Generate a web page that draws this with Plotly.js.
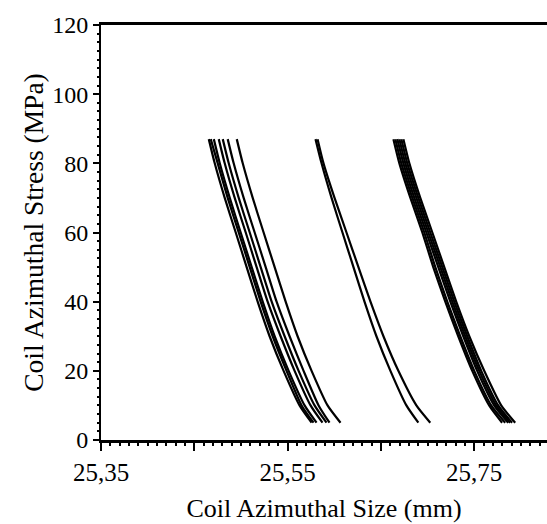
<!DOCTYPE html>
<html>
<head>
<meta charset="utf-8">
<script src="https://cdn.plot.ly/plotly-3.0.1.min.js"></script>
<style>html,body{margin:0;padding:0;background:#fff;}#chart{width:547px;height:524px;}</style>
</head>
<body>
<div id="chart"></div>
<script>
// Stress levels (MPa) at which each curve was read
const stress = [87, 80, 70, 60, 50, 40, 30, 20, 10, 5];

// Group 1 (left bundle)
const g1c1 = [25.4655, 25.4719, 25.4826, 25.4944, 25.5061, 25.5179, 25.5307, 25.5457, 25.5628, 25.5757];
const g1c2 = [25.4676, 25.4751, 25.4858, 25.4976, 25.5094, 25.5211, 25.5340, 25.5489, 25.5650, 25.5778];
const g1c3 = [25.4709, 25.4773, 25.4880, 25.4997, 25.5115, 25.5233, 25.5361, 25.5511, 25.5682, 25.5810];
const g1c4 = [25.4762, 25.4826, 25.4933, 25.5051, 25.5168, 25.5286, 25.5425, 25.5575, 25.5746, 25.5874];
const g1c5 = [25.4805, 25.4869, 25.4976, 25.5094, 25.5211, 25.5329, 25.5468, 25.5618, 25.5789, 25.5917];
const g1c6 = [25.4858, 25.4922, 25.5029, 25.5147, 25.5265, 25.5382, 25.5521, 25.5671, 25.5832, 25.5949];
const g1c7 = [25.4955, 25.5019, 25.5126, 25.5243, 25.5361, 25.5479, 25.5607, 25.5757, 25.5928, 25.6067];

// Group 2 (middle pair)
const g2c1 = [25.5799, 25.5864, 25.5971, 25.6088, 25.6206, 25.6324, 25.6452, 25.6602, 25.6773, 25.6901];
const g2c2 = [25.5821, 25.5885, 25.6003, 25.6131, 25.6259, 25.6388, 25.6527, 25.6687, 25.6880, 25.7029];

// Group 3 (right bundle)
const g3c1 = [25.6634, 25.6698, 25.6816, 25.6944, 25.7061, 25.7190, 25.7329, 25.7479, 25.7660, 25.7799];
const g3c2 = [25.6655, 25.6719, 25.6837, 25.6965, 25.7083, 25.7211, 25.7350, 25.7500, 25.7682, 25.7832];
const g3c3 = [25.6676, 25.6741, 25.6858, 25.6987, 25.7115, 25.7244, 25.7383, 25.7532, 25.7714, 25.7864];
const g3c4 = [25.6698, 25.6762, 25.6880, 25.7008, 25.7137, 25.7265, 25.7404, 25.7554, 25.7735, 25.7885];
const g3c5 = [25.6719, 25.6783, 25.6901, 25.7029, 25.7158, 25.7286, 25.7425, 25.7575, 25.7757, 25.7906];
const g3c6 = [25.6741, 25.6805, 25.6922, 25.7051, 25.7179, 25.7307, 25.7447, 25.7607, 25.7789, 25.7939];

// Axis ticks
const xTickVals = [25.35, 25.45, 25.55, 25.65, 25.75];
const xTickText = ['25,35', '', '25,55', '', '25,75'];
const yTickVals = [0, 20, 40, 60, 80, 100, 120];
const yTickText = ['0', '20', '40', '60', '80', '100', '120'];

const curves = [g1c1, g1c2, g1c3, g1c4, g1c5, g1c6, g1c7, g2c1, g2c2, g3c1, g3c2, g3c3, g3c4, g3c5, g3c6];

const traces = curves.map(xs => ({
  x: xs, y: stress, type: 'scatter', mode: 'lines',
  line: {color: '#000', width: 2.2, shape: 'spline', smoothing: 0.6},
  hoverinfo: 'skip', showlegend: false
}));

const fontFam = '"Liberation Serif", "DejaVu Serif", serif';

const layout = {
  width: 547, height: 524,
  margin: {l: 101, r: 0, t: 25, b: 84},
  paper_bgcolor: '#fff', plot_bgcolor: '#fff',
  font: {family: fontFam, color: '#000', size: 24},
  showlegend: false,
  xaxis: {
    range: [25.35, 25.828],
    tickvals: xTickVals, ticktext: xTickText,
    ticks: 'outside', ticklen: 8, tickwidth: 2, tickcolor: '#000',
    minor: {dtick: 0.01, tick0: 25.35, ticks: 'outside', ticklen: 3, tickwidth: 2, tickcolor: '#000', showgrid: false},
    showline: true, linewidth: 3, linecolor: '#000', mirror: true,
    showgrid: false, zeroline: false,
    tickfont: {family: fontFam, size: 25, color: '#000'},
    title: {text: 'Coil Azimuthal Size (mm)', font: {family: fontFam, size: 26, color: '#000'}, standoff: 14}
  },
  yaxis: {
    range: [0, 120],
    tickvals: yTickVals, ticktext: yTickText,
    ticks: 'outside', ticklen: 6, tickwidth: 2, tickcolor: '#000',
    minor: {dtick: 2.5, ticks: 'outside', ticklen: 2, tickwidth: 2, tickcolor: '#000', showgrid: false},
    showline: true, linewidth: 2, linecolor: '#000', mirror: false,
    showgrid: false, zeroline: false,
    tickfont: {family: fontFam, size: 24, color: '#000'},
    title: {text: 'Coil Azimuthal Stress (MPa)', font: {family: fontFam, size: 27.5, color: '#000'}, standoff: 1}
  }
};

Plotly.newPlot('chart', traces, layout, {staticPlot: true, displayModeBar: false});
</script>
</body>
</html>
